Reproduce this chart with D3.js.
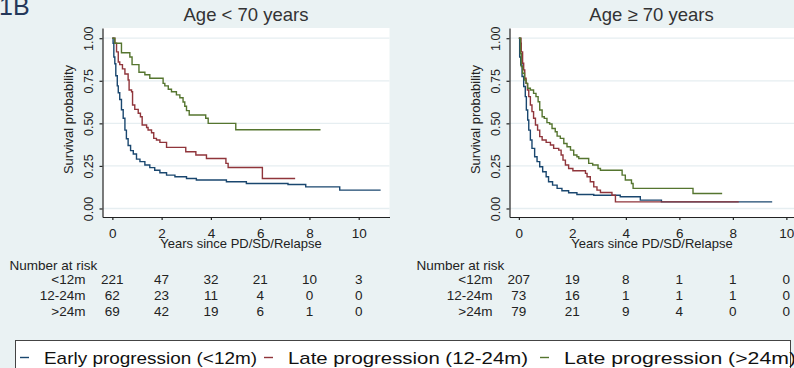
<!DOCTYPE html>
<html>
<head>
<meta charset="utf-8">
<script src="https://cdn.jsdelivr.net/npm/d3@7"></script>
<style>
  html, body { margin: 0; padding: 0; background: #eaf2f3; }
  svg { display: block; font-family: "Liberation Sans", Arial, sans-serif; }
</style>
</head>
<body>
<div id="km"></div>
<script>
var timeTicks = [0, 2, 4, 6, 8, 10];
var yTicks = [0, 0.25, 0.5, 0.75, 1];
var groupLabels = ["<12m", "12-24m", ">24m"];
var legendLabels = ["Early progression (<12m)", "Late progression (12-24m)", "Late progression (>24m)"];
var panelTitles = ["Age < 70 years", "Age \u2265 70 years"];

// Age < 70: Kaplan-Meier steps (years, survival)
var young_early_t = [0, 0.03, 0.06, 0.10, 0.14, 0.20, 0.24, 0.30, 0.37, 0.44, 0.51, 0.57, 0.64, 0.74, 0.85, 0.98, 1.12, 1.32, 1.52, 1.72, 1.93, 2.20, 2.54, 3.01, 3.41, 4.63, 5.44, 7.13, 7.85, 9.23, 10.89];
var young_early_s = [1, 0.97, 0.89, 0.85, 0.78, 0.72, 0.68, 0.64, 0.58, 0.53, 0.46, 0.41, 0.37, 0.34, 0.32, 0.29, 0.275, 0.255, 0.24, 0.225, 0.21, 0.196, 0.186, 0.176, 0.167, 0.157, 0.147, 0.141, 0.127, 0.108, 0.108];
var young_mid_t = [0, 0.10, 0.17, 0.24, 0.30, 0.41, 0.51, 0.64, 0.68, 0.78, 0.82, 0.91, 1.05, 1.14, 1.21, 1.39, 1.45, 1.59, 1.68, 1.79, 1.93, 2.20, 2.98, 3.39, 3.82, 4.61, 4.70, 6.09, 7.42];
var young_mid_s = [1, 0.97, 0.92, 0.86, 0.845, 0.82, 0.79, 0.755, 0.696, 0.686, 0.608, 0.582, 0.559, 0.539, 0.49, 0.476, 0.461, 0.445, 0.412, 0.402, 0.388, 0.359, 0.333, 0.314, 0.294, 0.265, 0.241, 0.176, 0.176];
var young_late_t = [0, 0.10, 0.37, 0.71, 0.80, 1.08, 1.32, 1.52, 2.06, 2.13, 2.27, 2.40, 2.60, 2.74, 2.87, 2.94, 3.01, 3.12, 3.79, 3.89, 5.01, 8.45];
var young_late_s = [1, 0.97, 0.915, 0.89, 0.845, 0.80, 0.785, 0.765, 0.735, 0.72, 0.70, 0.686, 0.667, 0.65, 0.625, 0.60, 0.575, 0.549, 0.53, 0.50, 0.462, 0.462];

// Age >= 70
var old_early_t = [0, 0.03, 0.07, 0.12, 0.18, 0.24, 0.28, 0.33, 0.37, 0.43, 0.49, 0.59, 0.68, 0.78, 0.89, 1.02, 1.11, 1.26, 1.43, 1.61, 1.86, 2.17, 2.80, 3.79, 4.54, 5.33, 9.47];
var old_early_s = [1, 0.89, 0.843, 0.775, 0.716, 0.657, 0.578, 0.52, 0.46, 0.402, 0.353, 0.304, 0.275, 0.245, 0.216, 0.186, 0.157, 0.137, 0.118, 0.104, 0.092, 0.082, 0.078, 0.069, 0.049, 0.039, 0.039];
var old_mid_t = [0, 0.08, 0.09, 0.14, 0.18, 0.22, 0.27, 0.32, 0.37, 0.43, 0.49, 0.55, 0.62, 0.70, 0.78, 0.87, 1.02, 1.18, 1.30, 1.49, 1.58, 1.65, 1.74, 1.86, 2.02, 2.49, 2.55, 2.67, 2.80, 2.92, 3.05, 3.48, 3.61, 8.22];
var old_mid_s = [1, 0.97, 0.92, 0.853, 0.814, 0.765, 0.735, 0.696, 0.657, 0.608, 0.569, 0.53, 0.49, 0.46, 0.422, 0.402, 0.388, 0.373, 0.353, 0.343, 0.314, 0.284, 0.255, 0.235, 0.222, 0.206, 0.186, 0.157, 0.127, 0.108, 0.094, 0.078, 0.039, 0.039];
var old_late_t = [0, 0.06, 0.09, 0.14, 0.21, 0.27, 0.33, 0.43, 0.55, 0.64, 0.72, 0.78, 0.87, 0.95, 1.05, 1.15, 1.24, 1.36, 1.43, 1.55, 1.68, 1.80, 1.93, 2.05, 2.17, 2.24, 2.61, 2.76, 2.96, 3.05, 3.86, 3.98, 4.21, 4.27, 6.51, 7.6];
var old_late_s = [1, 0.91, 0.833, 0.794, 0.755, 0.735, 0.706, 0.696, 0.676, 0.657, 0.627, 0.578, 0.539, 0.529, 0.504, 0.496, 0.47, 0.451, 0.425, 0.412, 0.382, 0.363, 0.343, 0.314, 0.304, 0.294, 0.265, 0.255, 0.235, 0.225, 0.196, 0.167, 0.147, 0.118, 0.088, 0.088];

// number at risk at 0,2,4,6,8,10 years
var young_risk_early = [221, 47, 32, 21, 10, 3];
var young_risk_mid = [62, 23, 11, 4, 0, 0];
var young_risk_late = [69, 42, 19, 6, 1, 0];
var old_risk_early = [207, 19, 8, 1, 1, 0];
var old_risk_mid = [73, 16, 1, 1, 1, 0];
var old_risk_late = [79, 21, 9, 4, 0, 0];

var colors = ["#1a476f", "#90353b", "#55752f"];

var width = 794, height = 368;
var svg = d3.select("#km").append("svg")
	.attr("width", width)
	.attr("height", height);

svg.append("rect").attr("width", width).attr("height", height).attr("fill", "#eaf2f3");

function zipSteps(t, s) {
	return t.map(function(d, i){ return { t: d, s: s[i] }; });
}

var panels = [
	{ title: panelTitles[0], left: 102.5, right: 389.5, xDomain: [-0.4, 11.25], titleX: 246, xTitleX: 241,
	  series: [zipSteps(young_early_t, young_early_s), zipSteps(young_mid_t, young_mid_s), zipSteps(young_late_t, young_late_s)],
	  risk: [young_risk_early, young_risk_mid, young_risk_late] },
	{ title: panelTitles[1], left: 509.5, right: 819.8, xDomain: [-0.35, 11.25], titleX: 651.5, xTitleX: 652,
	  series: [zipSteps(old_early_t, old_early_s), zipSteps(old_mid_t, old_mid_s), zipSteps(old_late_t, old_late_s)],
	  risk: [old_risk_early, old_risk_mid, old_risk_late] }
];

var plotTop = 28, plotBottom = 217;
var yScale = d3.scaleLinear().domain([-0.05, 1.06]).range([plotBottom, plotTop]);

// figure tag
svg.append("text")
	.attr("x", -1).attr("y", 15)
	.attr("font-size", 25)
	.attr("fill", "#24385a")
	.text("1B");

panels.forEach(function(p){
	var xScale = d3.scaleLinear().domain(p.xDomain).range([p.left, p.right]);

	svg.append("rect")
		.attr("x", p.left).attr("y", plotTop)
		.attr("width", p.right - p.left).attr("height", plotBottom - plotTop)
		.attr("fill", "#ffffff");

	svg.append("g").selectAll("line")
		.data(yTicks)
		.enter().append("line")
		.attr("x1", p.left).attr("x2", p.right)
		.attr("y1", function(d){ return yScale(d); })
		.attr("y2", function(d){ return yScale(d); })
		.attr("stroke", "#e6eef1")
		.attr("stroke-width", 1.3);

	var line = d3.line()
		.curve(d3.curveStepAfter)
		.x(function(d){ return xScale(d.t); })
		.y(function(d){ return yScale(d.s); });

	svg.append("g").selectAll("path")
		.data(p.series)
		.enter().append("path")
		.attr("d", line)
		.attr("fill", "none")
		.attr("stroke", function(d, i){ return colors[i]; })
		.attr("stroke-width", 1.4);

	var yAxis = d3.axisLeft(yScale)
		.tickValues(yTicks)
		.tickFormat(d3.format(".2f"))
		.tickSizeInner(3)
		.tickSizeOuter(0);

	var gy = svg.append("g")
		.attr("transform", "translate(" + p.left + ",0)")
		.call(yAxis);
	gy.attr("font-family", null).attr("font-size", 12.5);
	gy.selectAll("path, line").attr("stroke", "#222").attr("stroke-width", 1.2);
	gy.selectAll("text")
		.attr("x", 0).attr("y", -9.5).attr("dy", 0)
		.attr("text-anchor", "middle")
		.attr("transform", "rotate(-90)")
		.attr("fill", "#222");

	var xAxis = d3.axisBottom(xScale)
		.tickValues(timeTicks)
		.tickSizeInner(3)
		.tickSizeOuter(0)
		.tickPadding(8);

	var gx = svg.append("g")
		.attr("transform", "translate(0," + plotBottom + ")")
		.call(xAxis);
	gx.attr("font-family", null).attr("font-size", 13.5);
	gx.selectAll("path, line").attr("stroke", "#222").attr("stroke-width", 1.2);
	gx.selectAll("text").attr("fill", "#222");

	svg.append("text")
		.attr("x", p.titleX).attr("y", 21)
		.attr("text-anchor", "middle")
		.attr("font-size", 18.5)
		.attr("fill", "#333")
		.text(p.title);

	svg.append("text")
		.attr("transform", "translate(" + (p.left - 30) + "," + ((plotTop + plotBottom) / 2 - 3) + ") rotate(-90)")
		.attr("text-anchor", "middle")
		.attr("font-size", 13)
		.attr("fill", "#222")
		.text("Survival probability");

	svg.append("text")
		.attr("x", p.xTitleX).attr("y", 247.5)
		.attr("text-anchor", "middle")
		.attr("font-size", 13)
		.attr("fill", "#222")
		.text("Years since PD/SD/Relapse");

	// number at risk table
	svg.append("text")
		.attr("x", p.left - 93).attr("y", 269.5)
		.attr("font-size", 13.5)
		.attr("fill", "#222")
		.text("Number at risk");

	var rowY = [284, 300, 315.7];
	p.risk.forEach(function(row, r){
		svg.append("text")
			.attr("x", p.left - 17).attr("y", rowY[r])
			.attr("text-anchor", "end")
			.attr("font-size", 13.5)
			.attr("fill", "#222")
			.text(groupLabels[r]);
		svg.append("g").selectAll("text")
			.data(row)
			.enter().append("text")
			.attr("x", function(d, i){ return xScale(timeTicks[i]); })
			.attr("y", rowY[r])
			.attr("text-anchor", "middle")
			.attr("font-size", 13.5)
			.attr("fill", "#222")
			.text(function(d){ return d; });
	});
});

// legend
svg.append("rect")
	.attr("x", 15.5).attr("y", 340.5)
	.attr("width", 775).attr("height", 40)
	.attr("fill", "#ffffff")
	.attr("stroke", "#444")
	.attr("stroke-width", 1);

var legendX = [20, 264, 540];
var legendW = [213, 240, 232];
legendLabels.forEach(function(lbl, i){
	svg.append("line")
		.attr("x1", legendX[i]).attr("x2", legendX[i] + 9)
		.attr("y1", 357.5).attr("y2", 357.5)
		.attr("stroke", colors[i])
		.attr("stroke-width", 1.4);
	svg.append("text")
		.attr("x", legendX[i] + 24).attr("y", 363.5)
		.attr("font-size", 17)
		.attr("textLength", legendW[i])
		.attr("lengthAdjust", "spacingAndGlyphs")
		.attr("fill", "#111")
		.text(lbl);
});
</script>
</body>
</html>
